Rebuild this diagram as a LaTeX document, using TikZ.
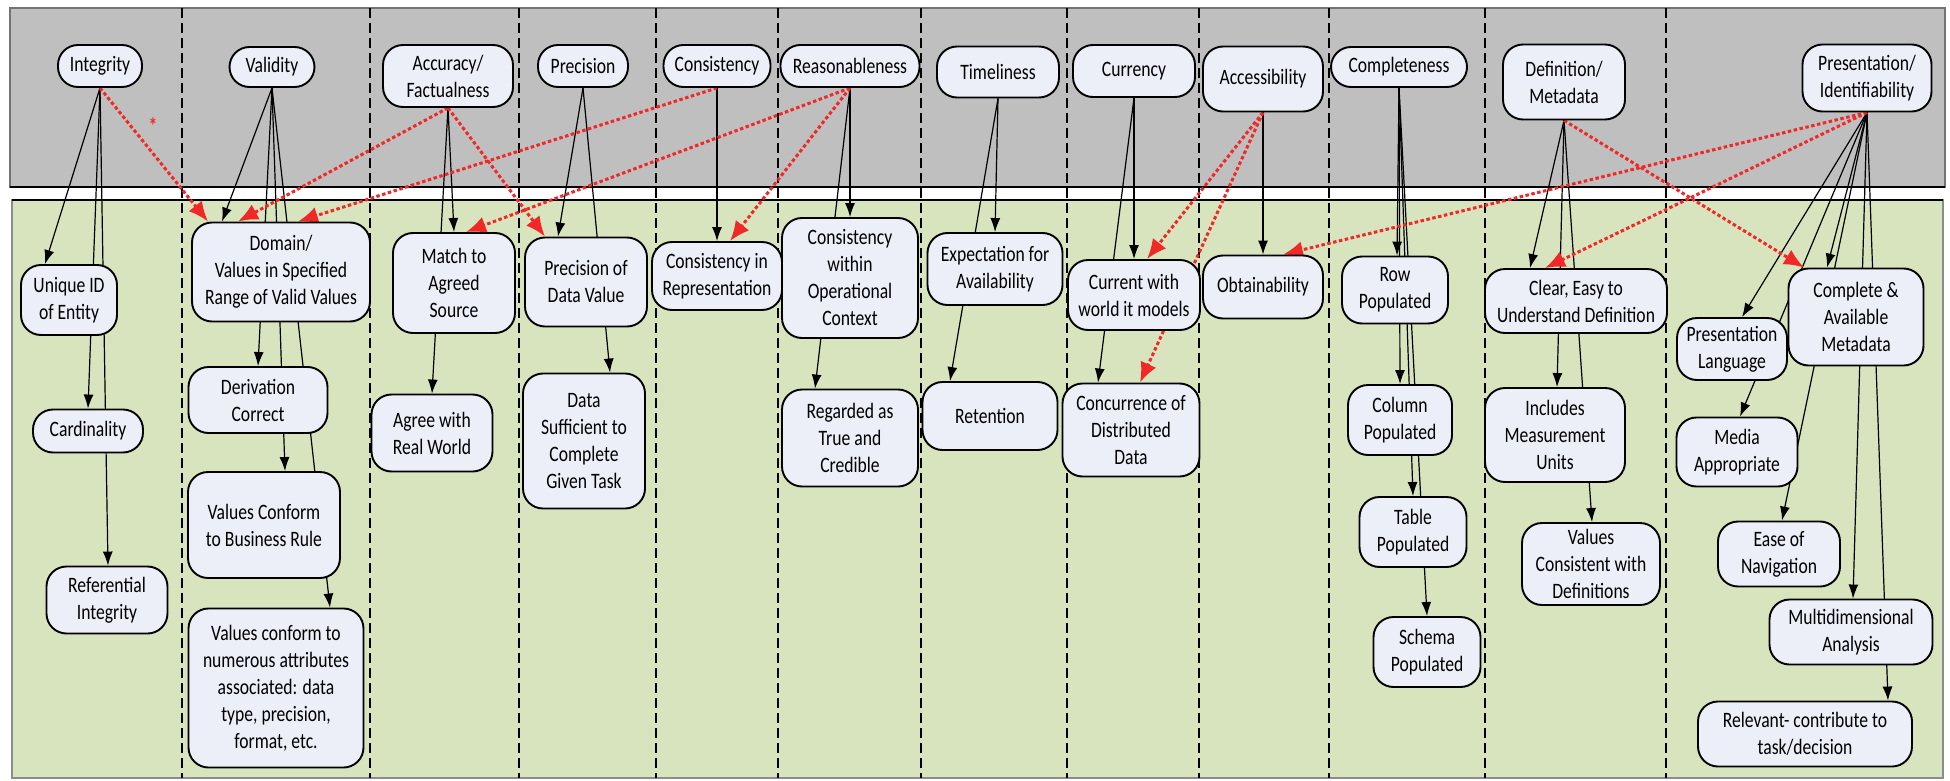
\documentclass[tikz,border=0pt]{standalone}
\usepackage{fontspec}
\newfontfamily\boxfont{Carlito}[FakeStretch=0.8]
\usetikzlibrary{arrows.meta}

\definecolor{bandgray}{RGB}{191,191,191}
\definecolor{bandgreen}{RGB}{215,228,189}
\definecolor{boxfill}{RGB}{236,238,248}
\definecolor{relred}{RGB}{240,40,40}

\pgfdeclarelayer{bands}
\pgfdeclarelayer{links}
\pgfsetlayers{bands,links,main}

\tikzset{
  box/.style={draw=black, fill=boxfill, line width=1.9pt, rounded corners=20pt,
    align=center, inner sep=2pt, font=\boxfont\fontsize{22}{27}\selectfont},
  link/.style={line width=1.2pt, -{Latex[length=14pt,width=10pt]}},
  rel/.style={draw=relred, line width=3pt, dash pattern=on 3.5pt off 2.5pt,
    -{Latex[length=20pt,width=17pt]}},
  divider/.style={line width=1.4pt, dash pattern=on 10pt off 5pt},
}

\begin{document}
\begin{tikzpicture}[x=1pt,y=1pt,yscale=-1,xscale=1]
\useasboundingbox (0,0) rectangle (1950,781);

%Shape: Rectangle [dimensions band]
\begin{pgfonlayer}{bands}
\draw [fill=bandgray, draw=black!55, line width=1.5pt] (10,8) rectangle (1945,187);
\draw [line width=2.2pt] (10,187) -- (1945,187);
%Shape: Rectangle [sub-dimensions band]
\draw [fill=bandgreen, draw=black!45, line width=1.5pt] (12,200) rectangle (1943,778);
\draw [line width=2.2pt] (12,200) -- (1943,200);
%Straight Lines [column dividers]
\foreach \cx in {182,370,519,656,778,921,1067,1199,1329,1485,1666}
  \draw [divider] (\cx,8) -- (\cx,778);
\end{pgfonlayer}

% Text Node
\node [box, minimum width=84, minimum height=42] (integ) at (100,66) {Integrity};
% Text Node
\node [box, minimum width=85, minimum height=40] (valid) at (272,67) {Validity};
% Text Node
\node [box, minimum width=130, minimum height=62] (accur) at (448,76) {Accuracy/\\Factualness};
% Text Node
\node [box, minimum width=90, minimum height=42] (precis) at (583,66) {Precision};
% Text Node
\node [box, minimum width=107, minimum height=42] (consis) at (717,66) {Consistency};
% Text Node
\node [box, minimum width=139, minimum height=42] (reason) at (850,66) {Reasonableness};
% Text Node
\node [box, minimum width=122, minimum height=51] (timel) at (998,72) {Timeliness};
% Text Node
\node [box, minimum width=122, minimum height=52] (curr) at (1134,71) {Currency};
% Text Node
\node [box, minimum width=120, minimum height=65] (access) at (1263,79) {Accessibility};
% Text Node
\node [box, minimum width=136, minimum height=40] (complt) at (1399,67) {Completeness};
% Text Node
\node [box, minimum width=122, minimum height=75] (defin) at (1564,82) {Definition/\\Metadata};
% Text Node
\node [box, minimum width=129, minimum height=67] (presn) at (1867,78) {Presentation/\\Identifiability};

% Text Node
\node [box, minimum width=96, minimum height=70] (uid) at (69,300) {Unique ID\\of Entity};
% Text Node
\node [box, minimum width=110, minimum height=43] (card) at (88,431) {Cardinality};
% Text Node
\node [box, minimum width=121, minimum height=67] (refint) at (107,600) {Referential\\Integrity};
% Text Node
\node [box, minimum width=178, minimum height=99] (domain) at (281,272) {Domain/\\Values in Specified\\Range of Valid Values};
% Text Node
\node [box, minimum width=139, minimum height=66] (deriv) at (258,400) {Derivation\\Correct};
% Text Node
\node [box, minimum width=152, minimum height=106] (busrule) at (264,525) {Values Conform\\to Business Rule};
% Text Node
\node [box, minimum width=175, minimum height=159] (attrib) at (276,688) {Values conform to\\numerous attributes\\associated: data\\type, precision,\\format, etc.};
% Text Node
\node [box, minimum width=122, minimum height=100] (match) at (454,283) {Match to\\Agreed\\Source};
% Text Node
\node [box, minimum width=121, minimum height=77] (agree) at (432,433) {Agree with\\Real World};
% Text Node
\node [box, minimum width=122, minimum height=89] (pdv) at (586,282) {Precision of\\Data Value};
% Text Node
\node [box, minimum width=122, minimum height=135] (suffic) at (584,441) {Data\\Sufficient to\\Complete\\Given Task};
% Text Node
\node [box, minimum width=130, minimum height=68] (repr) at (717,276) {Consistency in\\Representation};
% Text Node
\node [box, minimum width=136, minimum height=120] (opctx) at (850,278) {Consistency\\within\\Operational\\Context};
% Text Node
\node [box, minimum width=136, minimum height=97] (credib) at (850,438) {Regarded as\\True and\\Credible};
% Text Node
\node [box, minimum width=135, minimum height=72] (expect) at (995,269) {Expectation for\\Availability};
% Text Node
\node [box, minimum width=135, minimum height=68] (retain) at (990,416) {Retention};
% Text Node
\node [box, minimum width=132, minimum height=70] (current) at (1134,295) {Current with\\world it models};
% Text Node
\node [box, minimum width=137, minimum height=93] (concur) at (1131,430) {Concurrence of\\Distributed\\Data};
% Text Node
\node [box, minimum width=120, minimum height=63] (obtain) at (1263,287) {Obtainability};
% Text Node
\node [box, minimum width=106, minimum height=67] (rowpop) at (1395,290) {Row\\Populated};
% Text Node
\node [box, minimum width=104, minimum height=70] (colpop) at (1400,420) {Column\\Populated};
% Text Node
\node [box, minimum width=107, minimum height=70] (tabpop) at (1413,532) {Table\\Populated};
% Text Node
\node [box, minimum width=107, minimum height=70] (schpop) at (1427,652) {Schema\\Populated};
% Text Node
\node [box, minimum width=182, minimum height=64] (clear) at (1576,301) {Clear, Easy to\\Understand Definition};
% Text Node
\node [box, minimum width=140, minimum height=94] (units) at (1555,435) {Includes\\Measurement\\Units};
% Text Node
\node [box, minimum width=138, minimum height=82] (consdef) at (1591,564) {Values\\Consistent with\\Definitions};
% Text Node
\node [box, minimum width=110, minimum height=62] (preslang) at (1732,349) {Presentation\\Language};
% Text Node
\node [box, minimum width=135, minimum height=97] (meta) at (1856,317) {Complete \&\\Available\\Metadata};
% Text Node
\node [box, minimum width=121, minimum height=69] (media) at (1737,452) {Media\\Appropriate};
% Text Node
\node [box, minimum width=122, minimum height=65] (navig) at (1779,554) {Ease of\\Navigation};
% Text Node
\node [box, minimum width=163, minimum height=65] (multi) at (1851,632) {Multidimensional\\Analysis};
% Text Node
\node [box, minimum width=214, minimum height=65] (relev) at (1805,734) {Relevant- contribute to\\task/decision};
% Text Node
\node [text=relred, font=\boxfont\bfseries\fontsize{22}{22}\selectfont, inner sep=0pt] (redstar) at (153,126) {*};

\begin{pgfonlayer}{links}
%Straight Lines [column edges]
\draw [link] (integ.south) -- ([xshift=-24pt]uid.north);
\draw [link] (integ.south) -- (card.north);
\draw [link] (integ.south) -- ([xshift=1pt]refint.north);
\draw [link] (valid.south) -- ([xshift=-59pt]domain.north);
\draw [link] (valid.south) -- (deriv.north);
\draw [link] (valid.south) -- ([xshift=21pt]busrule.north);
\draw [link] (valid.south) -- ([xshift=54pt]attrib.north);
\draw [link] (accur.south) -- (match.north);
\draw [link] (accur.south) -- (agree.north);
\draw [link] (precis.south) -- ([xshift=-28pt]pdv.north);
\draw [link] (precis.south) -- ([xshift=26pt]suffic.north);
\draw [link] (consis.south) -- (repr.north);
\draw [link] (reason.south) -- (opctx.north);
\draw [link] (reason.south) -- ([xshift=-35pt]credib.north);
\draw [link] (timel.south) -- (expect.north);
\draw [link] (timel.south) -- ([xshift=-40pt]retain.north);
\draw [link] (curr.south) -- (current.north);
\draw [link] (curr.south) -- ([xshift=-33pt]concur.north);
\draw [link] (access.south) -- (obtain.north);
\draw [link] (complt.south) -- ([xshift=2pt]rowpop.north);
\draw [link] (complt.south) -- (colpop.north);
\draw [link] (complt.south) -- (tabpop.north);
\draw [link] (complt.south) -- (schpop.north);
\draw [link] (defin.south) -- ([xshift=-46pt]clear.north);
\draw [link] (defin.south) -- ([xshift=2pt]units.north);
\draw [link] (defin.south) -- ([xshift=1pt]consdef.north);
\draw [link] (presn.south) -- ([xshift=10pt]preslang.north);
\draw [link] (presn.south) -- ([xshift=-29pt]meta.north);
\draw [link] (presn.south) -- ([xshift=3pt]media.north);
\draw [link] (presn.south) -- ([xshift=3pt]navig.north);
\draw [link] (presn.south) -- ([xshift=2pt]multi.north);
\draw [link] (presn.south) -- ([xshift=83pt]relev.north);
%Straight Lines [cross-dimension relations]
\draw [rel] (integ.south) -- ([xshift=-73pt]domain.north);
\draw [rel] (accur.south) -- ([xshift=-43pt]domain.north);
\draw [rel] (accur.south) -- ([xshift=-41pt]pdv.north);
\draw [rel] (consis.south) -- ([xshift=17pt]domain.north);
\draw [rel] (reason.south) -- ([xshift=12pt]match.north);
\draw [rel] (reason.south) -- ([xshift=13pt]repr.north);
\draw [rel] (access.south) -- ([xshift=13pt]current.north);
\draw [rel] (access.south) -- ([xshift=9pt]concur.north);
\draw [rel] (presn.south) -- ([xshift=20pt]obtain.north);
\draw [rel] (presn.south) -- ([xshift=-31pt]clear.north);
\draw [rel] (defin.south) -- ([xshift=-52pt]meta.north);
\end{pgfonlayer}

\end{tikzpicture}
\end{document}
